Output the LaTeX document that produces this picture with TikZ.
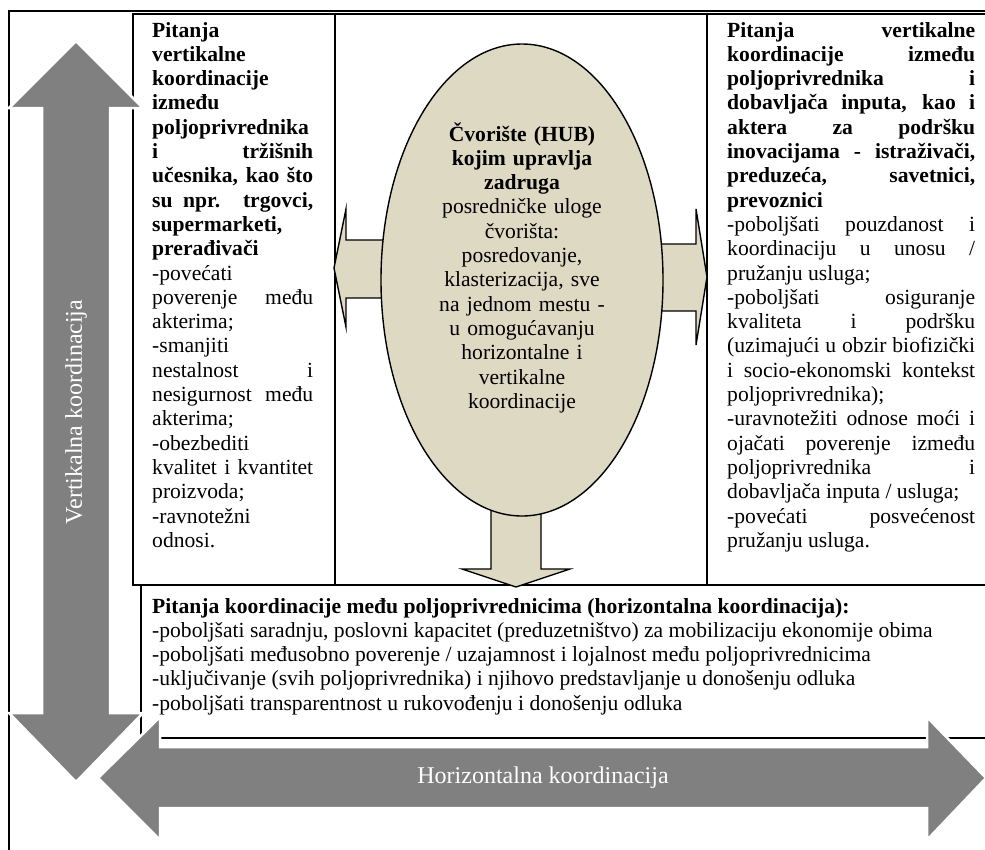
\documentclass[tikz,border=0pt]{standalone}
\usepackage{fontspec}
\setmainfont{Liberation Serif}
\usetikzlibrary{shapes.geometric}
\definecolor{hubfill}{HTML}{DDD9C3}
\definecolor{arrgray}{HTML}{808080}
\begin{document}
\begin{tikzpicture}[x=1pt,y=-1pt,
  boxline/.style={draw=black,line width=1.4pt},
  smallarrow/.style={fill=hubfill,draw=black,line width=1.4pt,line join=miter},
  bigarrow/.style={fill=arrgray,draw=white,line width=2.5pt,line join=miter},
  bodytext/.style={inner sep=0pt,font=\fontsize{21.6}{24.3}\selectfont,
    execute at begin node={\parindent=0pt\relax\hyphenpenalty=10000\relax\exhyphenpenalty=10000\relax\tolerance=10000\relax\hbadness=10000\relax}},
  arrowlabel/.style={inner sep=0pt,text=white,font=\fontsize{24}{28}\selectfont}
]
\useasboundingbox (0,0) rectangle (985,849);
% outer frame
\draw[boxline] (9,11) rectangle (990,860);
% boxes
\draw[boxline] (133,14) rectangle (335,585);
\draw[boxline] (335,14) rectangle (707,585);
\draw[boxline] (707,14) rectangle (990,585);
\draw[boxline] (141,585) rectangle (990,738);
% small arrows from hub
\draw[smallarrow] (395,240) -- (346,240) -- (346,209) -- (334,268) -- (346,327) -- (346,298) -- (395,298) -- cycle;
\draw[smallarrow] (650,244) -- (696,244) -- (696,209) -- (707,277) -- (696,345) -- (696,311) -- (650,311) -- cycle;
\draw[smallarrow] (491,500) -- (491,569) -- (462,569) -- (516,587) -- (570,569) -- (541,569) -- (541,500) -- cycle;
% hub ellipse
\node[ellipse, draw=black, line width=1.4pt, fill=hubfill, minimum width=282pt, minimum height=472pt, inner sep=0pt] (hub) at (522,280) {};
\node[bodytext, text width=250pt, align=center, anchor=base] (hubtext) at (522,141) {\textbf{Čvorište (HUB)}\\ \textbf{kojim upravlja}\\ \textbf{zadruga}\\ posredničke uloge\\ čvorišta:\\ posredovanje,\\ klasterizacija, sve\\ na jednom mestu -\\ u omogućavanju\\ horizontalne i\\ vertikalne\\ koordinacije};
% left text
\node[bodytext, text width=161pt, align=justify, anchor=base west] (lefttext) at (152,37) {\textbf{Pitanja\linebreak vertikalne\linebreak koordinacije\linebreak između\linebreak poljoprivrednika\linebreak i tržišnih\linebreak učesnika, kao što\linebreak su npr. trgovci,\linebreak supermarketi,\linebreak prerađivači}\par
-povećati\linebreak poverenje među\linebreak akterima;\par
-smanjiti\linebreak nestalnost i\linebreak nesigurnost među\linebreak akterima;\par
-obezbediti\linebreak kvalitet i kvantitet\linebreak proizvoda;\par
-ravnotežni\linebreak odnosi.};
% right text
\node[bodytext, text width=248pt, align=justify, anchor=base west] (righttext) at (727,37) {\textbf{Pitanja vertikalne\linebreak koordinacije između\linebreak poljoprivrednika i\linebreak dobavljača inputa, kao i\linebreak aktera za podršku\linebreak inovacijama - istraživači,\linebreak preduzeća, savetnici,\linebreak prevoznici}\par
-poboljšati pouzdanost i\linebreak koordinaciju u unosu /\linebreak pružanju usluga;\par
-poboljšati osiguranje\linebreak kvaliteta i podršku\linebreak (uzimajući u obzir biofizički\linebreak i socio-ekonomski kontekst\linebreak poljoprivrednika);\par
-uravnotežiti odnose moći i\linebreak ojačati poverenje između\linebreak poljoprivrednika i\linebreak dobavljača inputa / usluga;\par
-povećati posvećenost\linebreak pružanju usluga.};
% bottom text
\node[bodytext, text width=820pt, align=justify, anchor=base west] (bottomtext) at (152,613) {\textbf{Pitanja koordinacije među poljoprivrednicima (horizontalna koordinacija):}\par
-poboljšati saradnju, poslovni kapacitet (preduzetništvo) za mobilizaciju ekonomije obima\par
-poboljšati međusobno poverenje / uzajamnost i lojalnost među poljoprivrednicima\par
-uključivanje (svih poljoprivrednika) i njihovo predstavljanje u donošenju odluka\par
-poboljšati transparentnost u rukovođenju i donošenju odluka};
% big gray arrows
\draw[bigarrow] (42,108) -- (9,108) -- (76,41) -- (143,108) -- (110,108) -- (110,713) -- (143,713) -- (76,782) -- (9,713) -- (42,713) -- cycle;
\draw[bigarrow] (160,747) -- (160,717) -- (98,778) -- (160,840) -- (160,808) -- (927,808) -- (927,840) -- (986,778) -- (927,717) -- (927,747) -- cycle;
\node[arrowlabel, rotate=90] (vlabel) at (76,412) {Vertikalna koordinacija};
\node[arrowlabel] (hlabel) at (543,778) {Horizontalna koordinacija};
\end{tikzpicture}
\end{document}
